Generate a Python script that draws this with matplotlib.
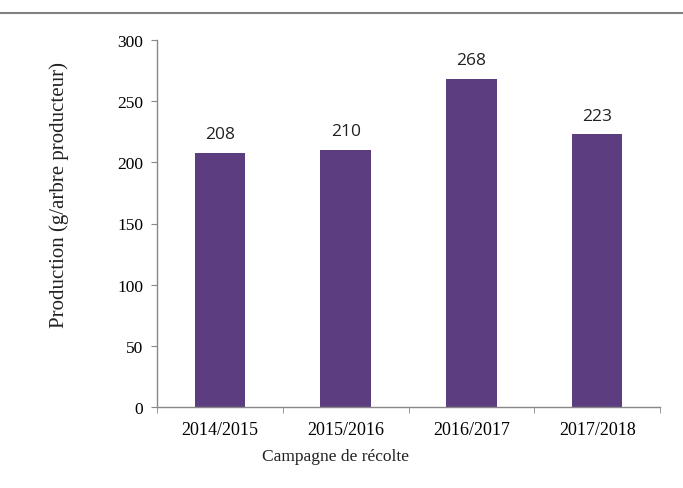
import matplotlib
matplotlib.use("Agg")
import matplotlib.pyplot as plt
from matplotlib.lines import Line2D

categories = ["2014/2015", "2015/2016", "2016/2017", "2017/2018"]
values = [208, 210, 268, 223]
yticks = [0, 50, 100, 150, 200, 250, 300]

W, H = 683, 489
fig = plt.figure(figsize=(W / 100, H / 100), dpi=100)
ax = fig.add_axes([157 / W, 1 - 408 / H, (660 - 157) / W, (408 - 41) / H])

x = list(range(len(categories)))
ax.bar(x, values, width=0.4, color="#5c3d80")
for xi, v in zip(x, values):
    ax.text(xi, v + 12, str(v), ha="center", va="baseline", fontsize=12.5,
            family="Open Sans", color="#222222")

ax.set_xlim(-0.5, len(categories) - 0.5)
ax.set_ylim(0, 300)
ax.set_yticks(yticks)
ax.set_yticklabels([str(t) for t in yticks], family="Liberation Serif", fontsize=12.5)
ax.set_xticks(x)
ax.set_xticklabels(categories, family="Liberation Serif", fontsize=13)
ax.tick_params(axis="x", length=0, pad=10)
ax.set_xticks([i + 0.5 for i in range(-1, len(categories))], minor=True)
ax.tick_params(axis="x", which="minor", length=4, color="#888888", direction="out")
ax.tick_params(axis="y", length=4, color="#888888", pad=6)

for s in ["top", "right"]:
    ax.spines[s].set_visible(False)
for s in ["left", "bottom"]:
    ax.spines[s].set_color("#888888")
    ax.spines[s].set_linewidth(1.0)

fig.text(59 / W, 1 - 195 / H, "Production (g/arbre producteur)", family="Liberation Serif",
         fontsize=15, rotation=90, ha="center", va="center", color="#222222")
fig.text(335 / W, 1 - 457 / H, "Campagne de récolte", family="Liberation Serif",
         fontsize=12.5, ha="center", va="center", color="#222222")

fig.add_artist(Line2D([0, 1], [1 - 14 / H, 1 - 14 / H], transform=fig.transFigure,
                      color="#808080", linewidth=1.5))

fig.savefig("out.png", dpi=100)
